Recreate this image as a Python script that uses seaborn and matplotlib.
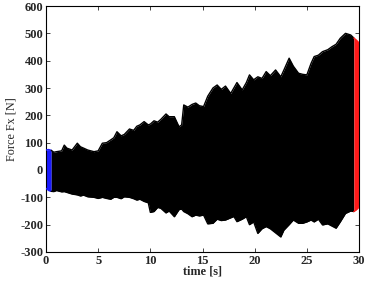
import numpy as np
import pandas as pd
import matplotlib
matplotlib.use("Agg")
import matplotlib.pyplot as plt
import seaborn as sns

# Envelope of the force signal
time_s = [0, 0.25, 0.5, 0.75, 1.0, 1.5, 1.75, 2.0, 2.5, 3.0, 3.3, 3.6, 4.0, 4.6, 5.0,
          5.4, 5.8, 6.2, 6.5, 6.8, 7.2, 7.5, 8.0, 8.4, 8.7, 9.0, 9.4, 9.8, 10.0, 10.35,
          10.7, 11.0, 11.5, 11.8, 12.3, 12.75, 13.0, 13.2, 13.6, 14.0, 14.35, 14.7, 15.1,
          15.5, 16.0, 16.4, 16.8, 17.2, 17.7, 18.0, 18.3, 18.8, 19.2, 19.5, 19.9, 20.3,
          20.7, 21.1, 21.5, 22.0, 22.5, 22.8, 23.3, 23.7, 24.2, 24.6, 25.0, 25.4, 25.7,
          26.1, 26.5, 27.0, 27.4, 27.8, 28.2, 28.7, 29.2, 29.5, 29.75, 30]
upper_N = [73, 75, 72, 65, 67, 70, 91, 80, 73, 98, 85, 80, 73, 67, 70,
           98, 100, 110, 118, 140, 125, 130, 150, 145, 160, 165, 177, 165, 168, 180,
           175, 185, 205, 195, 195, 158, 165, 238, 230, 240, 245, 235, 232,
           270, 300, 311, 295, 307, 280, 300, 320, 293, 320, 348, 330, 341,
           335, 360, 345, 366, 341, 366, 409, 380, 354, 350, 348, 390, 415,
           420, 433, 440, 451, 460, 482, 500, 494, 483, 475, 465]
lower_N = [-67, -75, -78, -79, -75, -80, -79, -82, -88, -91, -95, -92, -98, -100, -104,
           -100, -104, -107, -100, -100, -105, -98, -100, -105, -110, -107, -115, -120, -155, -152,
           -137, -140, -157, -150, -171, -145, -143, -152, -160, -171, -165, -168, -165,
           -197, -195, -180, -185, -183, -175, -170, -189, -180, -171, -200, -190, -232,
           -215, -207, -215, -230, -245, -220, -200, -183, -195, -195, -190, -183, -190,
           -180, -201, -197, -205, -213, -190, -159, -150, -152, -145, -135]

start_end = 0.5    # blue section ends
final_start = 29.5  # red section starts

x_ticks = [0, 5, 10, 15, 20, 25, 30]
y_ticks = [-300, -200, -100, 0, 100, 200, 300, 400, 500, 600]

df = pd.DataFrame({"t": time_s, "up": upper_N, "lo": lower_N})

sns.set_style("ticks")
plt.rcParams["font.family"] = ["Liberation Serif", "DejaVu Serif"]

fig = plt.figure(figsize=(3.66, 2.82), dpi=100)
ax = fig.add_axes([0.1257, 0.1064, 0.981 - 0.1257, 0.9787 - 0.1064])

segments = [
    (df[df.t <= start_end], "#1a1aff"),
    (df[(df.t >= start_end) & (df.t <= final_start)], "black"),
    (df[df.t >= final_start], "#ff1a1a"),
]
for seg, col in segments:
    ax.fill_between(seg.t, seg.lo, seg.up, color=col, lw=0, zorder=2)
    sns.lineplot(data=seg, x="t", y="up", color=col, lw=1.0, ax=ax, zorder=3)
    sns.lineplot(data=seg, x="t", y="lo", color=col, lw=1.0, ax=ax, zorder=3)

ax.set_xlim(0, 30)
ax.set_ylim(-300, 600)
ax.set_xticks(x_ticks)
ax.set_yticks(y_ticks)
ax.set_xticklabels([str(v) for v in x_ticks], fontsize=9, fontweight="bold")
ax.set_yticklabels([str(v) for v in y_ticks], fontsize=9, fontweight="bold")
ax.tick_params(direction="in", length=3, width=0.6, top=True, right=True, pad=2)
for s in ax.spines.values():
    s.set_visible(True)
    s.set_linewidth(0.8)
    s.set_color("black")
ax.set_xlabel("time [s]", fontsize=8.8, fontweight="bold", labelpad=-1)
ax.set_ylabel("Force Fx [N]", fontsize=8.7, labelpad=2)

fig.savefig("out.png", dpi=100)
